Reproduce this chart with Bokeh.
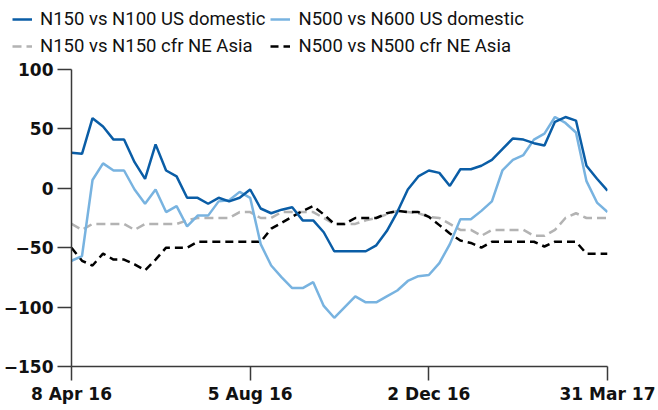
import pandas as pd
from bokeh.plotting import figure
from bokeh.models import Legend, LegendItem, FixedTicker, ColumnDataSource
from bokeh.embed import file_html
from bokeh.resources import INLINE

# weekly dates 8 Apr 2016 .. 31 Mar 2017
dates = pd.date_range("2016-04-08", "2017-03-31", freq="7D")

n150_n100_us = [30, 29, 59, 52, 41, 41, 22, 8, 37, 15, 10, -8, -8, -13, -8, -11, -8, -1,
                -17, -21, -18, -16, -27, -27, -37, -53, -53, -53, -53, -48, -36, -20, -1,
                10, 15, 13, 2, 16, 16, 19, 24, 33, 42, 41, 38, 36, 56, 60, 57, 19, 8, -2]
n500_n600_us = [-61, -57, 7, 21, 15, 15, -1, -13, -1, -20, -15, -32, -23, -23, -11, -10, -3, -8,
                -47, -65, -75, -84, -84, -79, -99, -109, -100, -91, -96, -96, -91, -86, -78,
                -74, -73, -63, -47, -26, -26, -19, -11, 15, 24, 28, 41, 46, 60, 55, 47, 6, -12, -20]
n150_cfr_asia = [-30, -35, -30, -30, -30, -30, -35, -30, -30, -30, -30, -27, -25, -25, -25, -25, -20, -20,
                 -25, -25, -20, -20, -20, -20, -25, -30, -30, -30, -27, -25, -22, -19, -20,
                 -21, -24, -25, -30, -35, -35, -40, -35, -35, -35, -35, -40, -40, -35, -25, -21, -25, -25, -25]
n500_cfr_asia = [-50, -61, -65, -55, -60, -60, -64, -69, -60, -50, -50, -50, -45, -45, -45, -45, -45, -45,
                 -45, -34, -29, -24, -19, -15, -22, -30, -30, -25, -25, -25, -21, -19, -20,
                 -20, -24, -31, -38, -44, -46, -50, -45, -45, -45, -45, -45, -49, -45, -45, -45, -55, -55, -55]

series_labels = ["N150 vs N100 US domestic", "N500 vs N600 US domestic",
                 "N150 vs N150 cfr NE Asia", "N500 vs N500 cfr NE Asia"]
series_colors = ["#0a5da6", "#78b3e0", "#b3b3b3", "#000000"]
series_dash = ["solid", "solid", "9 5", "8 5"]
tick_dates = ["2016-04-08", "2016-08-05", "2016-12-02", "2017-03-31"]
tick_labels = ["8 Apr 16", "5 Aug 16", "2 Dec 16", "31 Mar 17"]
y_ticks = [-150, -100, -50, 0, 50, 100]

src = ColumnDataSource(dict(x=dates, a=n150_n100_us, b=n500_n600_us,
                            c=n150_cfr_asia, d=n500_cfr_asia))

# ---- legend strip (own root, so its frame is not aligned with the chart) ----
lg = figure(width=642, height=60, output_backend="svg", toolbar_location=None, title=None,
            x_range=(0, 1), y_range=(0, 1), x_axis_location=None, y_axis_location=None,
            min_border_left=8, min_border_right=0, min_border_top=4, min_border_bottom=0)
lg.grid.visible = False
lg.outline_line_color = None
items = []
for lab, col, dash in zip(series_labels, series_colors, series_dash):
    # placeholder renderer outside the visible range, only used for its legend swatch
    r = lg.line(x=[-3, -2], y=[-3, -3], line_color=col, line_width=2.5, line_dash=dash)
    items.append(LegendItem(label=lab, renderers=[r]))

legend = Legend(items=items, orientation="horizontal", ncols=2,
                location="top_left", padding=6, margin=4, spacing=5,
                glyph_width=20, glyph_height=18, label_height=18, label_width=198,
                label_standoff=8,
                label_text_font="Roboto", label_text_font_size="18.5px",
                label_text_color="#111111",
                border_line_color=None, background_fill_alpha=0)
lg.add_layout(legend, "center")

# ---- main chart ----
p = figure(frame_width=536, frame_height=297, output_backend="svg", toolbar_location=None,
           x_axis_type="datetime", title=None,
           x_range=(dates[0], dates[-1]), y_range=(-150, 100),
           min_border_left=64, min_border_right=50, min_border_top=9, min_border_bottom=0)
p.outline_line_color = None
p.grid.visible = False

p.line("x", "c", source=src, line_color=series_colors[2], line_width=2.5, line_dash=series_dash[2])
p.line("x", "d", source=src, line_color=series_colors[3], line_width=2.5, line_dash=series_dash[3])
p.line("x", "b", source=src, line_color=series_colors[1], line_width=2.5)
p.line("x", "a", source=src, line_color=series_colors[0], line_width=2.5)

tick_ms = [int(pd.Timestamp(t).value // 10**6) for t in tick_dates]
xa = p.xaxis[0]
xa.ticker = FixedTicker(ticks=tick_ms)
xa.major_label_overrides = {ms: lab for ms, lab in zip(tick_ms, tick_labels)}
xa.minor_tick_line_color = None
xa.major_tick_out = 14
xa.major_tick_in = 0
xa.major_label_standoff = 3

ya = p.yaxis[0]
ya.ticker = FixedTicker(ticks=y_ticks)
ya.minor_tick_line_color = None
ya.major_tick_out = 14
ya.major_tick_in = 0
ya.major_label_standoff = 4

for ax in (xa, ya):
    ax.axis_line_color = "#3a3a3a"
    ax.major_tick_line_color = "#3a3a3a"
    ax.axis_line_width = 1.5
    ax.major_tick_line_width = 1.5
    ax.major_label_text_font = "DejaVu Sans"
    ax.major_label_text_font_style = "bold"
    ax.major_label_text_font_size = "17px"
    ax.major_label_text_color = "#111111"

open("out.html", "w").write(file_html([lg, p], INLINE))
